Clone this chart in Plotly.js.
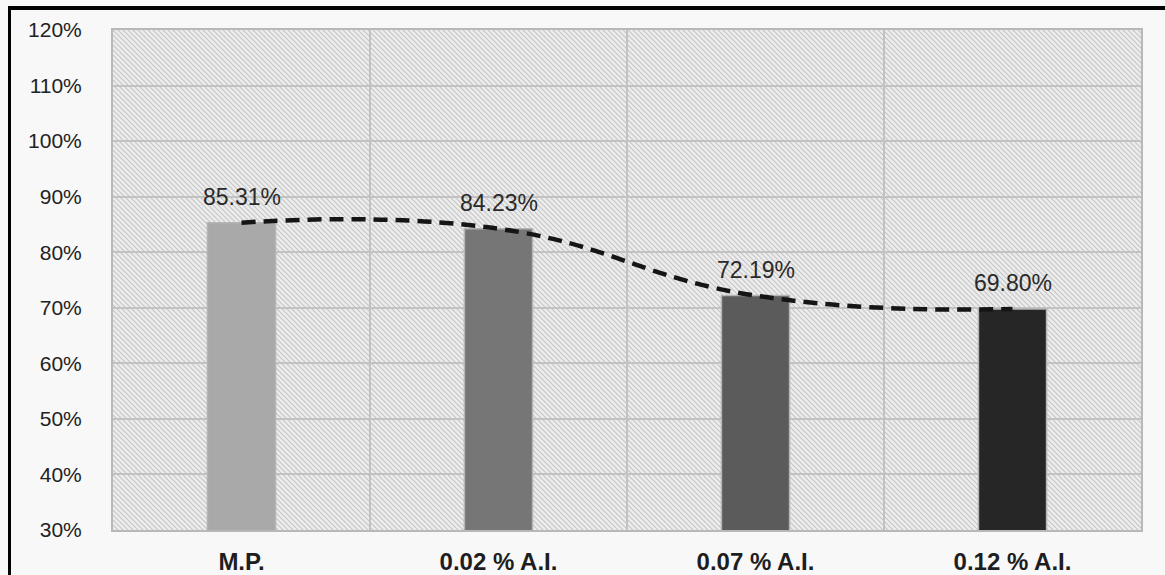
<!DOCTYPE html>
<html>
<head>
<meta charset="utf-8">
<script src="https://cdn.plot.ly/plotly-3.0.1.min.js"></script>
<style>
  html, body { margin: 0; padding: 0; background: #f8f8f8; }
  #wrap { position: relative; width: 1165px; height: 575px; background: #f8f8f8; overflow: hidden; }
  #hatch { position: absolute; left: 113px; top: 30px; width: 1028px; height: 500px;
    background-color: #ededed;
    background-image: url("data:image/svg+xml;utf8,<svg xmlns='http://www.w3.org/2000/svg' width='5' height='5'><rect width='5' height='5' fill='%23ededed'/><path d='M-1,-1 L6,6 M-1,4 L1,6 M4,-1 L6,1' stroke='%23c6c6c6' stroke-width='1.2'/></svg>");
    background-size: 5px 5px; z-index: 0; }
  #chart { position: absolute; left: 0; top: 0; width: 1165px; height: 575px; z-index: 1; }
  #btop { position: absolute; left: 8px; top: 6px; width: 1157px; height: 4px; background: #000; z-index: 2; }
  #bleft { position: absolute; left: 8px; top: 6px; width: 3px; height: 569px; background: #000; z-index: 2; }
</style>
</head>
<body>
<div id="wrap">
  <div id="hatch"></div>
  <div id="chart"></div>
  <div id="btop"></div>
  <div id="bleft"></div>
</div>
<script>
const categories = ["M.P.", "0.02 % A.I.", "0.07 % A.I.", "0.12 % A.I."];
const values = [85.31, 84.23, 72.19, 69.80];
const labels = ["85.31%", "84.23%", "72.19%", "69.80%"];
const barColors = ["#a9a9a9", "#767676", "#5b5b5b", "#262626"];
const yTickVals = [30, 40, 50, 60, 70, 80, 90, 100, 110, 120];
const yTickText = ["30%", "40%", "50%", "60%", "70%", "80%", "90%", "100%", "110%", "120%"];

const bars = {
  type: "bar",
  x: categories,
  y: values,
  width: 0.265,
  marker: { color: barColors, line: { color: "#b4b4b4", width: 1.5 } },
  hoverinfo: "skip"
};
const trend = {
  type: "scatter",
  mode: "lines",
  x: categories,
  y: values,
  line: { shape: "spline", smoothing: 1.3, color: "#151515", width: 4.5, dash: "14px,8px" },
  hoverinfo: "skip"
};

const annotations = categories.map((c, i) => ({
  x: c, y: values[i], text: labels[i], showarrow: false,
  yanchor: "middle", yshift: 26,
  font: { family: "Liberation Sans, Arial, sans-serif", size: 23, color: "#2a2a2a" }
}));

const layout = {
  width: 1165, height: 575,
  margin: { l: 113, r: 24, t: 30, b: 45 },
  paper_bgcolor: "rgba(0,0,0,0)",
  plot_bgcolor: "rgba(0,0,0,0)",
  showlegend: false,
  bargap: 0,
  xaxis: {
    type: "category",
    tickson: "boundaries",
    showgrid: true, gridcolor: "#c2c2c2", gridwidth: 2,
    showline: true, linecolor: "#b8b8b8", linewidth: 2, mirror: true,
    ticks: "", ticklabelstandoff: 9,
    tickfont: { family: "Liberation Sans, Arial, sans-serif", size: 24, color: "#1e1e1e", weight: "bold" },
    fixedrange: true
  },
  yaxis: {
    range: [30, 120],
    tickvals: yTickVals, ticktext: yTickText,
    showgrid: true, gridcolor: "#c2c2c2", gridwidth: 2,
    showline: true, linecolor: "#b8b8b8", linewidth: 2, mirror: true,
    zeroline: false,
    ticks: "", ticklabelstandoff: 25,
    tickfont: { family: "Liberation Sans, Arial, sans-serif", size: 21, color: "#222222" },
    fixedrange: true
  },
  annotations: annotations
};

Plotly.newPlot("chart", [bars, trend], layout, { staticPlot: true, displayModeBar: false });
</script>
</body>
</html>
